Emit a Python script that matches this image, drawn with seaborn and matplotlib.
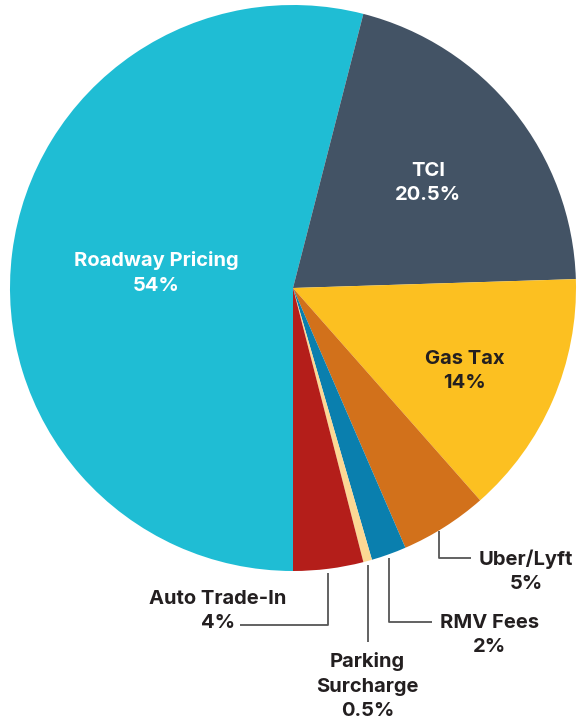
import numpy as np
import matplotlib
matplotlib.use("Agg")
import matplotlib.pyplot as plt
import seaborn as sns

# Data (clockwise from the bottom of the pie)
categories = ["Roadway Pricing", "TCI", "Gas Tax", "Uber/Lyft", "RMV Fees",
              "Parking\nSurcharge", "Auto Trade-In"]
shares = [54, 20.5, 14, 5, 2, 0.5, 4]
share_labels = ["54%", "20.5%", "14%", "5%", "2%", "0.5%", "4%"]
colors = ["#1fbdd4", "#435365", "#fcc021", "#d2711b", "#0a7fae", "#fcd894", "#b41e1a"]

sns.set_theme(style="white")
plt.rcParams["font.family"] = ["Inter", "DejaVu Sans"]

W, H = 584, 723
fig = plt.figure(figsize=(W / 100, H / 100), dpi=100)
ax = fig.add_axes([0, 0, 1, 1])

cx, cy, r = 293, 288, 283
# y axis is flipped, so counterclock=True draws clockwise on screen
wedges, _ = ax.pie(shares, colors=colors, startangle=90, counterclock=True,
                   center=(cx, cy), radius=r, frame=True,
                   wedgeprops=dict(linewidth=0))
ax.set_xlim(0, W)
ax.set_ylim(H, 0)
ax.set_aspect("equal")
ax.axis("off")

dark = "#231f20"
fs = 14.5
txt_kw = dict(ha="center", va="center", fontsize=fs, fontweight="bold",
              linespacing=1.45)

# inside labels
inside = {0: (156, 273, "white"), 1: (428, 183, "white"), 2: (465, 371, dark)}
for i, (x, y, c) in inside.items():
    ax.text(x, y, f"{categories[i]}\n{share_labels[i]}", color=c, **txt_kw)

def rim_point(i):
    w = wedges[i]
    mid = np.deg2rad((w.theta1 + w.theta2) / 2)
    return cx + r * np.cos(mid), cy + r * np.sin(mid)

line_kw = dict(color="#555555", lw=1.3, solid_capstyle="butt")

# Uber/Lyft
x0, y0 = rim_point(3)
x0 -= 6
ax.plot([x0, x0, 471], [y0 + 4, 558, 558], **line_kw)
ax.text(526, 571, f"{categories[3]}\n{share_labels[3]}", color=dark, **txt_kw)

# RMV Fees
x0, y0 = rim_point(4)
ax.plot([x0, x0, 432], [y0 + 4, 622, 622], **line_kw)
ax.text(490, 635, f"{categories[4]}\n{share_labels[4]}", color=dark, **txt_kw)

# Parking Surcharge
x0, y0 = rim_point(5)
ax.plot([x0, x0], [y0 + 4, 642], **line_kw)
ax.text(x0, 686, f"{categories[5]}\n{share_labels[5]}", color=dark, **txt_kw)

# Auto Trade-In
x0, y0 = rim_point(6)
ax.plot([x0, x0, 240], [y0 + 4, 625, 625], **line_kw)
ax.text(218, 611, f"{categories[6]}\n{share_labels[6]}", color=dark, **txt_kw)

fig.savefig("out.png", dpi=100, facecolor="white")
